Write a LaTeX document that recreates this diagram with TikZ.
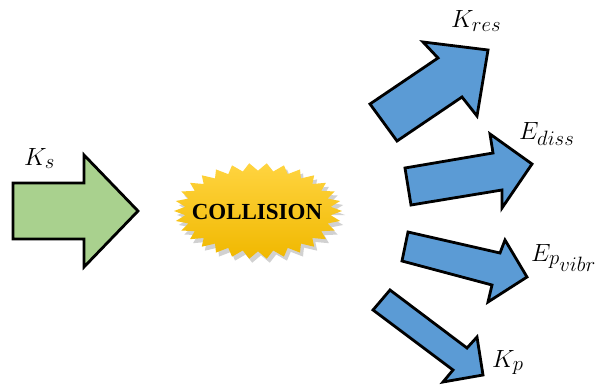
\documentclass[tikz,border=0pt]{standalone}
\usepackage{fontspec}
\newfontfamily\collfont{Liberation Serif}
\DeclareMathSizes{29}{29}{21}{17}
\begin{document}
\begin{tikzpicture}[x=1pt,y=-1pt,
  bigarrow/.style={draw=black,line width=2.8pt,line join=miter,miter limit=10},
  greenarrow/.style={bigarrow,fill={rgb,255:red,169;green,209;blue,142}},
  bluearrow/.style={bigarrow,fill={rgb,255:red,91;green,155;blue,213}},
  lbl/.style={font=\fontsize{29}{34}\selectfont,inner sep=0pt,anchor=base west}]
\useasboundingbox (0,0) rectangle (600,385);
\clip (0,0) rectangle (600,385);
% green input arrow
\path[greenarrow] (13,183) -- (84,183) -- (84,155) -- (138,211) -- (84,267) -- (84,239) -- (13,239) -- cycle;
\node[lbl] (ks) at (24,165) {$K_s$};
% starburst shadow
\fill[black,opacity=0.18] (261,215) \foreach \i in {1,...,60} { -- ({261+84*(1-0.13*mod(\i,2))*cos(6*\i)},{215+48*(1-0.16*mod(\i,2))*sin(6*\i)}) } -- cycle;
% starburst
\shade[top color={rgb,255:red,255;green,212;blue,64},bottom color={rgb,255:red,240;green,184;blue,0}]
  (342,211) \foreach \i in {1,...,60} { -- ({258+84*(1-0.13*mod(\i,2))*cos(6*\i)},{211+48*(1-0.16*mod(\i,2))*sin(6*\i)}) } -- cycle;
\node[font=\collfont\bfseries\fontsize{23}{26}\selectfont,inner sep=0pt] (coll) at (257,212) {COLLISION};
% blue output arrows
\path[bluearrow] (370,104) -- (438,58) -- (423,42) -- (488,50) -- (477,116) -- (462,97) -- (397,141) -- cycle;
\path[bluearrow] (405,168) -- (493,153) -- (490,134) -- (532,164) -- (502,208) -- (502,190) -- (411,205) -- cycle;
\path[bluearrow] (408,232) -- (500,253) -- (505,240) -- (527,277) -- (488,302) -- (492,285) -- (402,261) -- cycle;
\path[bluearrow] (390,290) -- (467,348) -- (477,337) -- (483,375) -- (443,382) -- (453,370) -- (373,310) -- cycle;
\node[lbl] (kres) at (451,28) {$K_{res}$};
\node[lbl] (ediss) at (519,140) {$E_{diss}$};
\node[lbl] (epv) at (531,261) {$E_{p_{\scriptstyle vibr}}$};
\node[lbl] (kp) at (492,367) {$K_p$};
\end{tikzpicture}
\end{document}
